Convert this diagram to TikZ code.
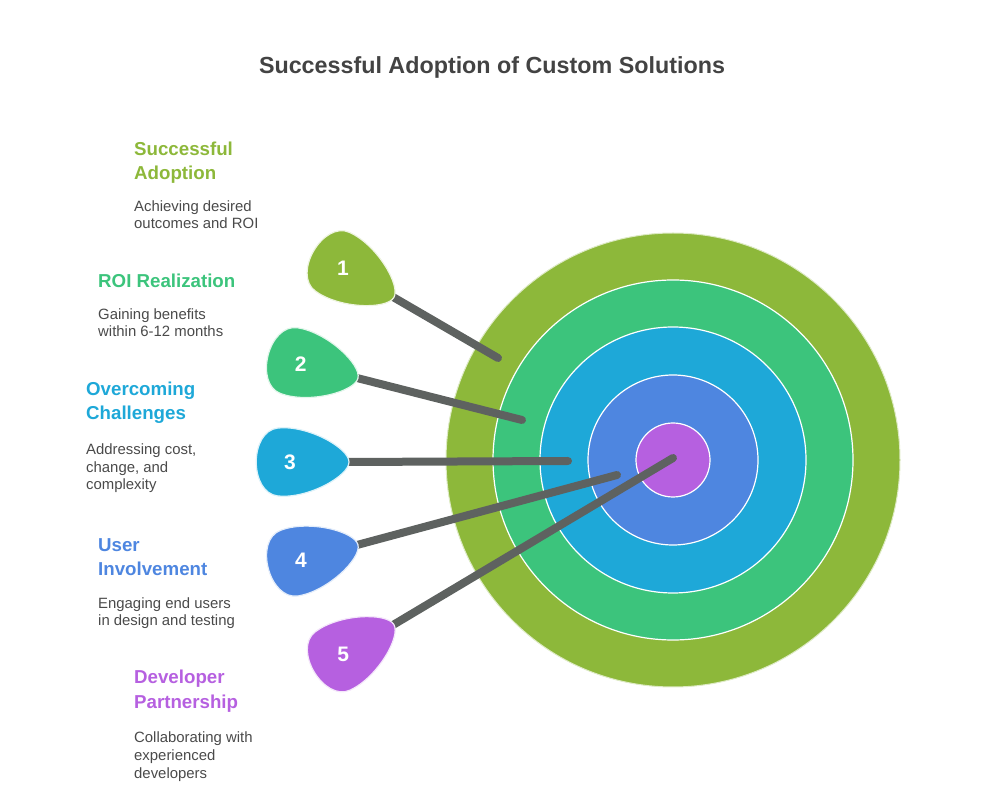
\documentclass[tikz,border=0pt]{standalone}
\usepackage{fontspec}
\setmainfont{Liberation Sans}
\begin{document}
\begin{tikzpicture}[x=1pt,y=1pt,
  ttl/.style={anchor=base west,inner sep=0,align=left,font=\bfseries\fontsize{18.7}{24}\selectfont},
  dsc/.style={anchor=base west,inner sep=0,align=left,text=txt,font=\fontsize{14.9}{17.8}\selectfont},
  dart/.style={line width=8pt,draw=shaft,line cap=round},
  ring/.style={draw=white,line width=1.2pt}]
\definecolor{cA}{HTML}{8DB83A}
\definecolor{cB}{HTML}{3CC47C}
\definecolor{cC}{HTML}{1EA8D8}
\definecolor{cD}{HTML}{4E86E0}
\definecolor{cE}{HTML}{B660E0}
\definecolor{txt}{HTML}{4A4A4A}
\definecolor{shaft}{HTML}{5E6260}
\useasboundingbox (0,0) rectangle (985,806);
\node[font=\bfseries\fontsize{23.3}{28}\selectfont,text=txt!90!black] (title) at (492,739) {Successful Adoption of Custom Solutions};
% target
\coordinate (c) at (673,346);
\fill[cA,draw=cA!30!white,line width=1pt] (c) circle (227);
\fill[cB,ring] (c) circle (180);
\fill[cC,ring] (c) circle (133);
\fill[cD,ring] (c) circle (85);
\fill[cE,ring] (c) circle (37);
% darts
\foreach \n/\col/\tx/\ty/\ex/\ey/\ang in {1/cA/393/509/498/448/-30.2,2/cB/357/428/522/386/-14.3,3/cC/348/344/568/345/0,4/cD/357/261/617/331/15,5/cE/393/181/673/348/30.8}{
  \coordinate (t\n) at (\tx,\ty);
  \coordinate (e\n) at (\ex,\ey);
  \draw[dart] (t\n) -- (e\n);
  \begin{scope}[shift={(t\n)},rotate=\ang]
    \fill[\col,draw=white!85!\col,line width=1.2pt] (1,0) .. controls (1,-14) and (-40,-37) .. (-70,-34) .. controls (-99,-31) and (-99,31) .. (-70,34) .. controls (-40,37) and (1,14) .. (1,0) -- cycle;
    \node[text=white,font=\bfseries\fontsize{21}{24}\selectfont] (m\n) at (-58,0) {\n};
  \end{scope}
}
% labels
\node[ttl,text=cA] (l1) at (134,626) {Successful\\Adoption};
\node[dsc] (d1) at (134,577) {Achieving desired\\outcomes and ROI};
\node[ttl,text=cB] (l2) at (98,518) {ROI Realization};
\node[dsc] (d2) at (98,469) {Gaining benefits\\within 6-12 months};
\node[ttl,text=cC] (l3) at (86,386) {Overcoming\\Challenges};
\node[dsc] (d3) at (86,316) {Addressing cost,\\change, and\\complexity};
\node[ttl,text=cD] (l4) at (98,230) {User\\Involvement};
\node[dsc] (d4) at (98,180) {Engaging end users\\in design and testing};
\node[ttl,text=cE] (l5) at (134,98) {Developer\\Partnership};
\node[dsc] (d5) at (134,28) {Collaborating with\\experienced\\developers};
\end{tikzpicture}
\end{document}
